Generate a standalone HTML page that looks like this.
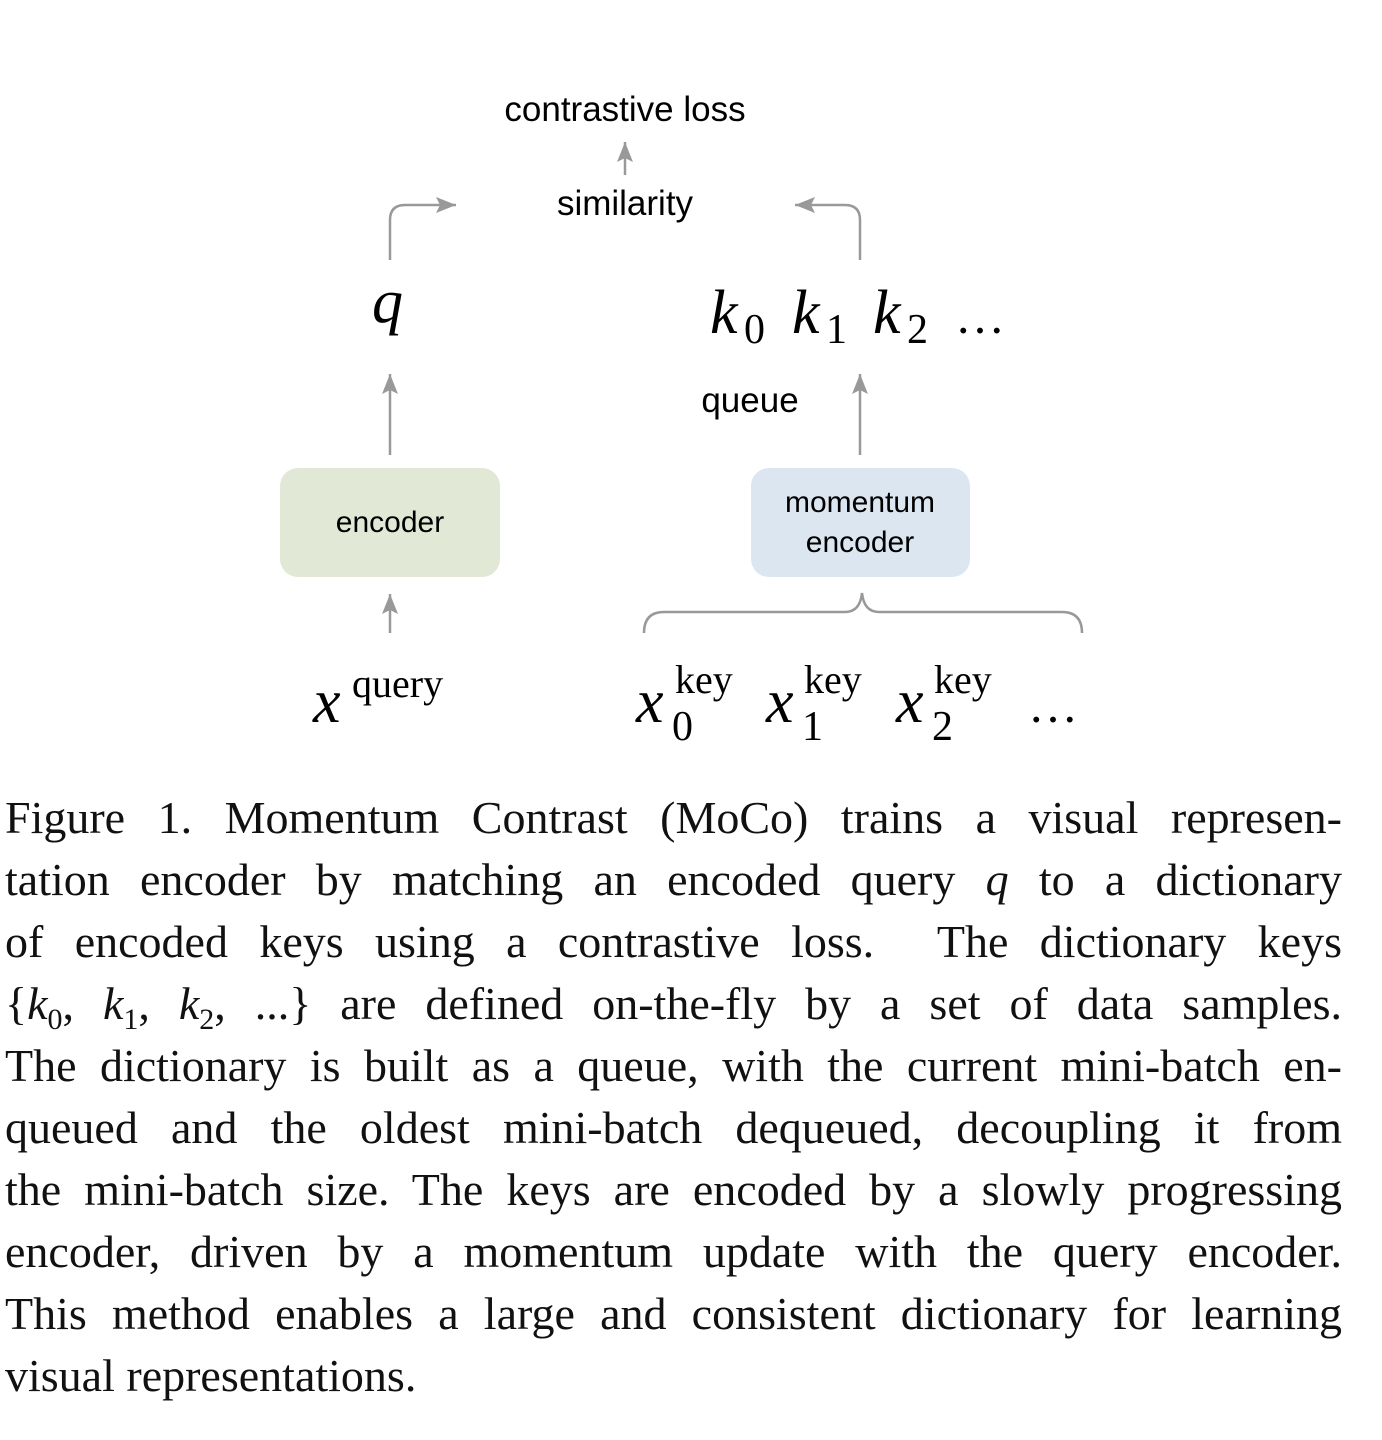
<!DOCTYPE html>
<html><head><meta charset="utf-8"><style>
body{margin:0;background:#fff;width:1382px;height:1440px;position:relative;overflow:hidden}
svg{position:absolute;left:0;top:0}
.cap{position:absolute;left:5px;top:787px;width:1337px;font-family:"Liberation Serif",serif;font-size:46px;color:#111}
.cap div{height:62px;line-height:62px;text-align:justify;text-align-last:justify;white-space:nowrap}
.cap div.last{text-align-last:left}
.cap i{font-style:italic}
</style></head><body>
<svg width="1382" height="780" viewBox="0 0 1382 780">
<defs><marker id="a" markerWidth="10" markerHeight="10" refX="9" refY="5" orient="auto" markerUnits="userSpaceOnUse"><path d="M0,0 L10,5 L0,10 z" fill="#999"/></marker>
<marker id="b" markerWidth="22" markerHeight="20" refX="20" refY="10" orient="auto" markerUnits="userSpaceOnUse"><path d="M0,2 L20,10 L0,18 L4,10 z" fill="#999"/></marker></defs>
<g font-family="Liberation Sans, sans-serif" font-size="35" fill="#000" text-anchor="middle">
<text x="625" y="121">contrastive loss</text>
<text x="625" y="215">similarity</text>
<text x="750" y="412">queue</text>
<text x="390" y="532" font-size="30">encoder</text>
<text x="860" y="512" font-size="30">momentum</text>
<text x="860" y="552" font-size="30">encoder</text>
</g>
<g stroke="#999" stroke-width="2.5" fill="none">
<path d="M625,175 V142" marker-end="url(#b)"/>
<path d="M390,260 V220 Q390,205 405,205 H456" marker-end="url(#b)"/>
<path d="M860,260 V220 Q860,205 845,205 H795" marker-end="url(#b)"/>
<path d="M390,455 V374" marker-end="url(#b)"/>
<path d="M860,455 V374" marker-end="url(#b)"/>
<path d="M390,633 V594" marker-end="url(#b)"/>
<path d="M644,633 Q644,612 664,612 H845 Q860,612 862,593 Q864,612 879,612 H1062 Q1082,612 1082,633"/>
</g>
<rect x="280" y="468" width="220" height="109" rx="18" fill="#e1e8d5"/>
<rect x="751" y="468" width="219" height="109" rx="18" fill="#dce6f0"/>
<text x="390" y="532" font-family="Liberation Sans, sans-serif" font-size="30" text-anchor="middle">encoder</text>
<text x="860" y="512" font-family="Liberation Sans, sans-serif" font-size="30" text-anchor="middle">momentum</text>
<text x="860" y="552" font-family="Liberation Sans, sans-serif" font-size="30" text-anchor="middle">encoder</text>
<g font-family="Liberation Serif, serif" fill="#000">
<text x="372" y="322" font-size="62" font-style="italic">q</text>
<text x="710" y="333" font-size="62" font-style="italic">k</text><text x="744" y="343" font-size="42">0</text>
<text x="792" y="333" font-size="62" font-style="italic">k</text><text x="826" y="343" font-size="42">1</text>
<text x="873" y="333" font-size="62" font-style="italic">k</text><text x="907" y="343" font-size="42">2</text>
<text x="955" y="333" font-size="50">…</text>
<text x="313" y="722" font-size="62" font-style="italic">x</text><text x="352" y="697" font-size="40">query</text>
<text x="636" y="722" font-size="62" font-style="italic">x</text><text x="675" y="693" font-size="40">key</text><text x="672" y="740" font-size="42">0</text>
<text x="766" y="722" font-size="62" font-style="italic">x</text><text x="804" y="693" font-size="40">key</text><text x="802" y="740" font-size="42">1</text>
<text x="896" y="722" font-size="62" font-style="italic">x</text><text x="934" y="693" font-size="40">key</text><text x="932" y="740" font-size="42">2</text>
<text x="1028" y="722" font-size="50">…</text>
</g>
</svg>
<div class="cap">
<div>Figure 1. Momentum Contrast (MoCo) trains a visual represen-</div>
<div>tation encoder by matching an encoded query <i>q</i> to a dictionary</div>
<div>of encoded keys using a contrastive loss. &nbsp;The dictionary keys</div>
<div>{<i>k</i><sub style="font-size:30px">0</sub>, <i>k</i><sub style="font-size:30px">1</sub>, <i>k</i><sub style="font-size:30px">2</sub>, ...} are defined on-the-fly by a set of data samples.</div>
<div>The dictionary is built as a queue, with the current mini-batch en-</div>
<div>queued and the oldest mini-batch dequeued, decoupling it from</div>
<div>the mini-batch size. The keys are encoded by a slowly progressing</div>
<div>encoder, driven by a momentum update with the query encoder.</div>
<div>This method enables a large and consistent dictionary for learning</div>
<div class="last">visual representations.</div>
</div>
</body></html>
